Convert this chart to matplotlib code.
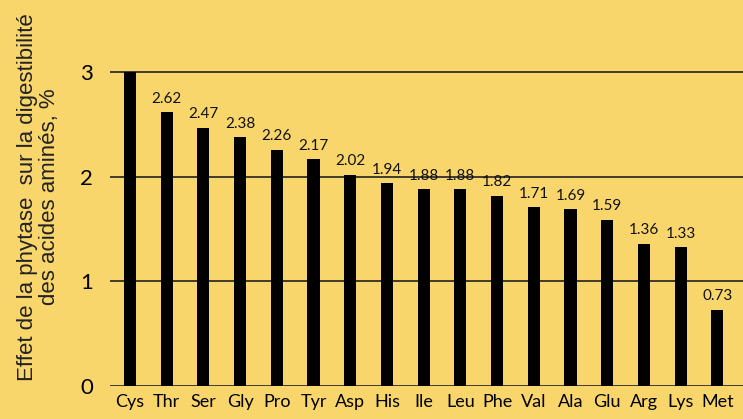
import matplotlib.pyplot as plt

# amino acids and phytase effect on digestibility (%)
acids = ["Cys", "Thr", "Ser", "Gly", "Pro", "Tyr", "Asp", "His", "Ile",
         "Leu", "Phe", "Val", "Ala", "Glu", "Arg", "Lys", "Met"]
values = [3.00, 2.62, 2.47, 2.38, 2.26, 2.17, 2.02, 1.94, 1.88,
          1.88, 1.82, 1.71, 1.69, 1.59, 1.36, 1.33, 0.73]
labels = ["", "2.62", "2.47", "2.38", "2.26", "2.17", "2.02", "1.94", "1.88",
          "1.88", "1.82", "1.71", "1.69", "1.59", "1.36", "1.33", "0.73"]
yticks = [0, 1, 2, 3]

bg = "#F9D66C"
fig = plt.figure(figsize=(7.43, 4.19), dpi=100, facecolor=bg)
ax = fig.add_axes([0.148, 0.0788, 0.852, 0.9212])
ax.set_facecolor(bg)

x = range(len(acids))
for y in yticks:
    ax.axhline(y, color="#222222", lw=1.2, zorder=1)
ax.bar(x, values, width=0.33, color="black", zorder=2)

for i, (v, t) in enumerate(zip(values, labels)):
    if t:
        ax.text(i, v + 0.06, t, ha="center", va="bottom", fontsize=11,
                family="Lato", color="#111111")

ax.set_xlim(-0.545, 16.7)
ax.set_ylim(0, 3.69)
ax.set_yticks(yticks)
ax.set_yticklabels([str(t) for t in yticks], fontsize=16, family="Lato")
ax.set_xticks(list(x))
ax.set_xticklabels(acids, fontsize=13, family="Lato")
ax.tick_params(length=0, pad=6)
ax.tick_params(axis="y", pad=12)
for s in ax.spines.values():
    s.set_visible(False)

fig.text(0.052, 0.53, "Effet de la phytase  sur la digestibilité\ndes acides aminés, %",
         rotation=90, ha="center", va="center", fontsize=16,
         family="Liberation Sans", color="#222222", linespacing=1.05)

fig.savefig("out.png", dpi=100, facecolor=bg)
